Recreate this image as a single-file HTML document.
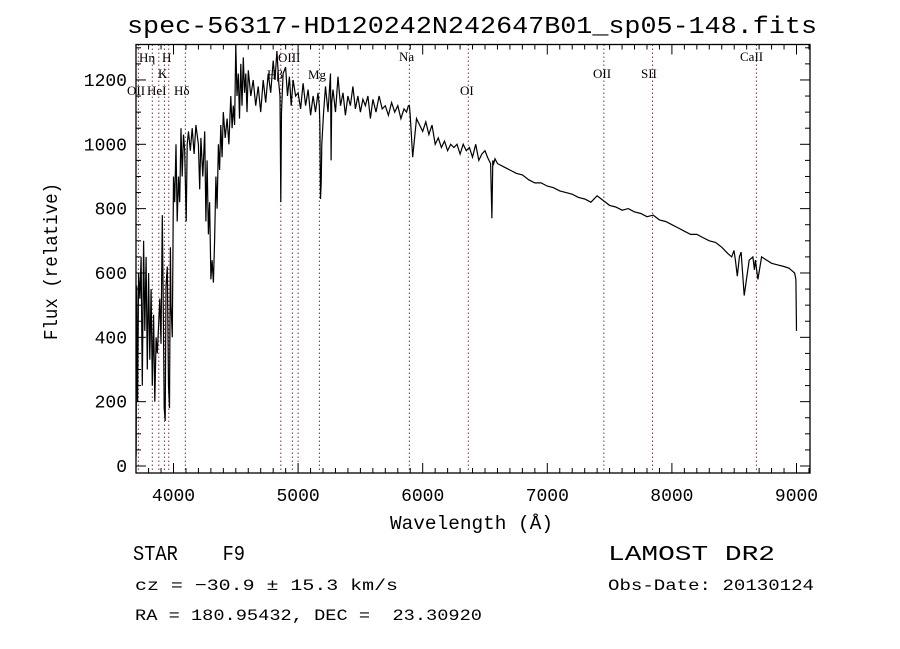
<!DOCTYPE html>
<html><head><meta charset="utf-8"><style>
html,body{margin:0;padding:0;background:#fff;}
svg{display:block;}
text{font-family:"Liberation Mono",monospace;fill:#000;white-space:pre;}
.lbl{font-family:"Liberation Serif",serif;font-size:13px;}
</style></head><body>
<svg id="chart" width="900" height="649" viewBox="0 0 900 649" xml:space="preserve">
<text x="127" y="33" font-size="24" textLength="690" lengthAdjust="spacingAndGlyphs">spec-56317-HD120242N242647B01_sp05-148.fits</text>
<g id="lines"></g>
<g id="axes"></g>
<path id="spec" fill="none" stroke="#000" stroke-width="1.2"></path>
<rect x="136" y="44.5" width="674" height="428.5" fill="none" stroke="#000" stroke-width="1.3"/>
<text x="390" y="529" font-size="19" textLength="163" lengthAdjust="spacingAndGlyphs">Wavelength (Å)</text>
<text transform="translate(57,340) rotate(-90)" font-size="19" textLength="157" lengthAdjust="spacingAndGlyphs">Flux (relative)</text>
<text x="133" y="560" font-size="21" textLength="112" lengthAdjust="spacingAndGlyphs">STAR    F9</text>
<text x="608" y="560" font-size="21" textLength="167" lengthAdjust="spacingAndGlyphs">LAMOST DR2</text>
<text x="135" y="590" font-size="16" textLength="263" lengthAdjust="spacingAndGlyphs">cz = −30.9 ± 15.3 km/s</text>
<text x="608" y="590" font-size="16" textLength="206" lengthAdjust="spacingAndGlyphs">Obs-Date: 20130124</text>
<text x="135" y="620" font-size="16" textLength="347" lengthAdjust="spacingAndGlyphs">RA = 180.95432, DEC =  23.30920</text>
</svg>
<script>
const wave = [3700,3705,3712,3720,3730,3740,3750,3760,3770,3780,3790,3800,3810,3820,3830,3840,3850,3860,3870,3880,3890,3900,3910,3920,3925,3933,3940,3950,3960,3968,3975,3980,3990,4000,4010,4020,4030,4040,4050,4060,4070,4080,4090,4102,4110,4120,4135,4150,4165,4180,4200,4210,4220,4235,4250,4260,4270,4280,4290,4300,4310,4320,4330,4340,4350,4360,4370,4380,4390,4400,4415,4430,4445,4460,4470,4480,4490,4500,4510,4520,4530,4540,4550,4560,4570,4580,4590,4600,4620,4640,4660,4680,4700,4720,4740,4760,4780,4800,4815,4830,4845,4855,4861,4867,4880,4900,4915,4930,4945,4960,4980,5000,5020,5040,5060,5080,5100,5120,5140,5160,5170,5175,5180,5185,5190,5205,5220,5240,5260,5265,5270,5280,5300,5320,5340,5360,5380,5400,5420,5440,5460,5480,5500,5520,5540,5560,5580,5600,5625,5650,5675,5700,5725,5750,5775,5800,5825,5850,5870,5885,5893,5900,5920,5950,5975,6000,6025,6050,6075,6100,6125,6150,6175,6200,6225,6250,6275,6300,6325,6350,6375,6400,6425,6450,6475,6500,6520,6545,6555,6563,6570,6580,6600,6650,6700,6750,6800,6850,6900,6950,7000,7050,7100,7150,7200,7250,7300,7350,7400,7450,7500,7550,7600,7650,7700,7750,7800,7850,7900,7950,8000,8050,8100,8150,8200,8250,8300,8350,8400,8450,8480,8498,8510,8525,8542,8555,8580,8620,8650,8662,8670,8690,8720,8760,8800,8850,8900,8940,8970,8985,8990,8995,9000];
const flux = [30,560,200,600,520,650,250,700,420,650,300,600,330,550,250,470,200,400,350,430,520,380,780,420,180,140,560,620,250,180,680,500,400,900,820,1000,760,900,820,1050,900,1030,980,760,1000,1040,980,1050,970,1060,1000,860,1020,900,1040,760,950,720,820,580,640,570,700,900,800,1000,920,1060,960,1100,1020,1080,1000,1150,1050,1120,1060,1310,1150,1220,1080,1250,1120,1270,1160,1220,1100,1230,1150,1200,1120,1180,1100,1200,1130,1220,1160,1260,1200,1290,1190,1150,820,1100,1220,1240,1150,1210,1120,1200,1150,1160,1110,1190,1120,1170,1090,1150,1100,1160,1120,1060,830,880,1000,1100,1180,1100,1220,950,1130,1170,1100,1210,1120,1160,1090,1150,1120,1180,1110,1150,1100,1140,1120,1150,1080,1140,1100,1150,1110,1120,1090,1130,1100,1120,1080,1110,1100,1120,1120,1090,960,1080,1060,1040,1070,1030,1060,1000,1020,990,1010,980,1000,990,1000,970,1000,980,990,960,1000,950,970,980,960,940,770,950,940,955,940,930,920,910,905,890,880,880,870,865,855,850,845,835,830,820,840,825,810,805,795,800,790,785,775,780,765,760,750,740,730,720,720,710,700,695,680,660,650,670,640,590,650,665,530,640,650,610,640,580,650,640,630,625,620,615,605,600,590,580,420,220,60];
const lineWave = [3718,3830,3882,3927,3962,4095,4861,4954,5000,5171,5893,6366,7454,7844,8678];
const lineLabels = [["OII",127,95],["Hη",139,62],["H",162,62],["K",158,78],["HeI",147,95],["Hδ",174,95],["OIII",278,62],["Hβ",267,79],["Mg",308,79],["Na",399,61],["OI",460,95],["OII",593,78],["SII",641,78],["CaII",740,61]];
const xTicks = [4000,5000,6000,7000,8000,9000];
const yTicks = [0,200,400,600,800,1000,1200];

const X0=136,X1=810,Y0=473,Y1=44.5;
const xs = w => 173.5 + (w-4000)*0.1246;
const ys = f => 466 - f*0.3217;
const NS='http://www.w3.org/2000/svg';
function mk(tag,attrs,parent){const e=document.createElementNS(NS,tag);for(const k in attrs)e.setAttribute(k,attrs[k]);parent.appendChild(e);return e;}

const lg=document.getElementById('lines');
lineWave.forEach(w=>{
  const l=mk('line',{x1:xs(w),x2:xs(w),y1:Y1,y2:Y0,stroke:'#8b3030','stroke-width':1,'stroke-dasharray':'1.5,2.5'},lg);
  
  
});
lineLabels.forEach(d=>{
  const t=mk('text',{x:d[1],y:d[2],class:'lbl'},lg);
  t.textContent=d[0];
  
  
});

const ax=document.getElementById('axes');
for(let w=3800;w<=9100;w+=100){
  const major=w%1000===0;const len=major?10:5;const x=xs(w);
  mk('line',{x1:x,x2:x,y1:Y0,y2:Y0-len,stroke:'#000','stroke-width':1},ax);
  mk('line',{x1:x,x2:x,y1:Y1,y2:Y1+len,stroke:'#000','stroke-width':1},ax);
}
xTicks.forEach(w=>{
  const t=mk('text',{x:xs(w),y:501,'font-size':18,'text-anchor':'middle'},ax);
  t.textContent=w;
  
  
});
for(let f=0;f<=1300;f+=50){
  const major=f%200===0;const len=major?10:5;const y=ys(f);
  mk('line',{x1:X0,x2:X0+len,y1:y,y2:y,stroke:'#000','stroke-width':1},ax);
  mk('line',{x1:X1,x2:X1-len,y1:y,y2:y,stroke:'#000','stroke-width':1},ax);
}
yTicks.forEach(f=>{
  const t=mk('text',{x:127,y:ys(f)+6,'font-size':18,'text-anchor':'end'},ax);
  t.textContent=f;
  
  
});

let d='';
wave.forEach((w,i)=>{
  const y=Math.max(Y1,Math.min(Y0,ys(flux[i])));
  d+=(i?'L':'M')+xs(w).toFixed(1)+','+y.toFixed(1);
});
document.getElementById('spec').setAttribute('d',d);
</script>
</body></html>
